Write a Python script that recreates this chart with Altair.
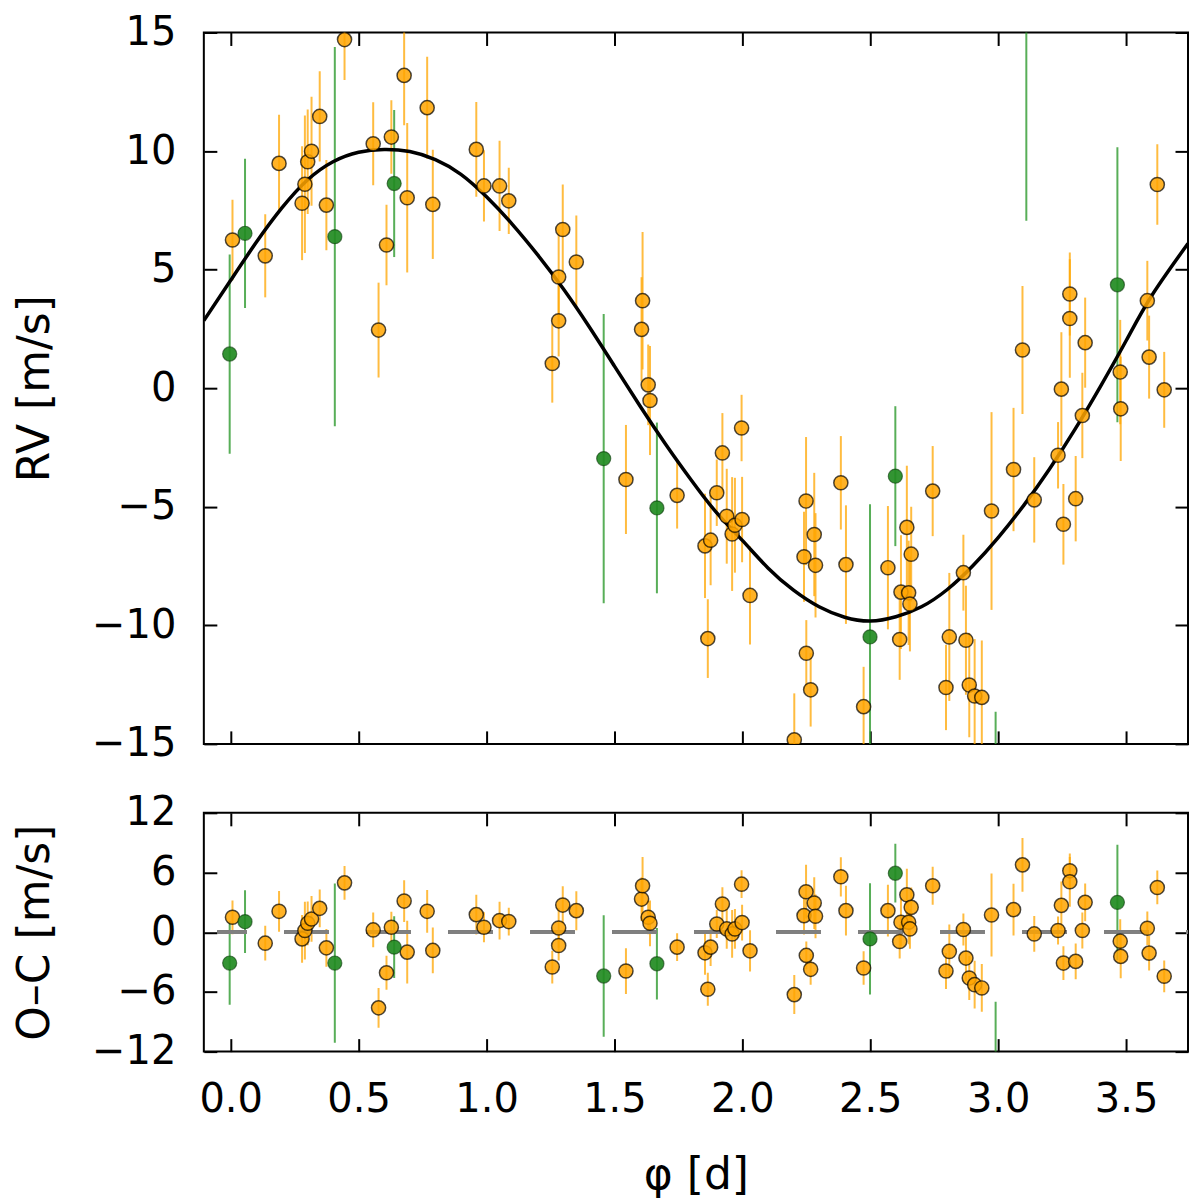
import altair as alt
import pandas as pd

# ---- data ---------------------------------------------------------------
# instrument 1 (orange): phase [d], RV [m/s], sigma [m/s], O-C [m/s]
orange_phase = [
    0.007, 0.135, 0.189, 0.279, 0.290, 0.301, 0.316, 0.348, 0.374, 0.445,
    0.557, 0.578, 0.609, 0.628, 0.678, 0.690, 0.768, 0.790, 0.960, 0.990,
    1.051, 1.087, 1.257, 1.282, 1.282, 1.298, 1.351, 1.545, 1.606, 1.610,
    1.632, 1.639, 1.745, 1.854, 1.865, 1.876, 1.900, 1.922, 1.939, 1.960,
    1.971, 1.999, 1.997, 2.030, 2.203, 2.241, 2.249, 2.250, 2.267, 2.281,
    2.286, 2.385, 2.405, 2.474, 2.569, 2.615, 2.620, 2.643, 2.650, 2.655,
    2.660, 2.744, 2.796, 2.809, 2.864, 2.874, 2.887, 2.908, 2.936, 2.974,
    3.060, 3.095, 3.141, 3.234, 3.247, 3.255, 3.280, 3.280, 3.303, 3.329,
    3.340, 3.477, 3.479, 3.583, 3.590, 3.622, 3.649,
]
orange_rv = [
    6.25, 5.58, 9.48, 7.80, 8.60, 9.55, 9.99, 11.46, 7.72, 14.70,
    10.31, 2.45, 6.04, 10.59, 13.19, 8.03, 11.83, 7.75, 10.07, 8.53,
    8.53, 7.90, 1.04, 2.84, 4.69, 6.69, 5.32, -3.85, 2.48, 3.69,
    0.14, -0.52, -4.52, -6.65, -10.56, -6.41, -4.41, -2.73, -5.40, -6.15,
    -5.78, -5.54, -1.68, -8.74, -14.83, -7.11, -4.76, -11.18, -12.72, -6.17,
    -7.47, -3.99, -7.44, -13.43, -7.57, -10.60, -8.60, -5.87, -8.63, -9.10,
    -7.00, -4.34, -12.62, -10.49, -7.78, -10.63, -12.52, -12.98, -13.04, -5.18,
    -3.43, 1.61, -4.71, -2.83, -0.04, -5.74, 3.97, 2.94, -4.66, -1.15,
    1.92, 0.68, -0.87, 3.69, 1.31, 8.59, -0.07,
]
orange_err = [
    1.70, 1.75, 2.05, 2.40, 2.90, 2.20, 2.30, 1.90, 1.90, 1.70,
    1.75, 2.00, 1.70, 1.55, 2.10, 3.15, 2.15, 2.30, 2.00, 1.50,
    1.90, 1.40, 1.65, 1.50, 2.00, 1.90, 1.96, 2.30, 2.20, 2.90,
    1.70, 2.30, 1.40, 2.20, 1.66, 1.90, 1.40, 1.68, 2.00, 2.40,
    2.00, 1.80, 1.40, 2.07, 1.96, 1.90, 2.70, 1.40, 1.55, 2.60,
    2.20, 1.97, 2.50, 1.68, 2.60, 1.70, 2.40, 2.60, 2.20, 2.00,
    2.00, 1.90, 1.80, 2.70, 1.60, 2.30, 2.20, 2.40, 2.40, 4.17,
    2.60, 2.70, 1.80, 1.40, 2.40, 1.70, 1.75, 2.50, 1.80, 1.80,
    1.90, 2.20, 2.20, 1.68, 1.75, 1.70, 1.60,
]
orange_oc = [
    1.50, -1.10, 2.10, -0.67, 0.17, 0.90, 1.33, 2.40, -1.57, 4.96,
    0.23, -7.60, -4.07, 0.50, 3.13, -2.00, 2.10, -1.83, 1.77, 0.50,
    1.17, 1.07, -3.50, -1.33, 0.43, 2.73, 2.17, -3.90, 3.33, 4.67,
    1.50, 0.90, -1.50, -2.07, -5.73, -1.50, 0.83, 2.83, 0.33, -0.17,
    0.33, 0.97, 4.83, -1.87, -6.27, 1.67, 4.07, -2.33, -3.73, 2.93,
    1.60, 5.57, 2.17, -3.60, 2.17, -0.93, 1.00, 3.77, 1.00, 0.33,
    2.50, 4.67, -3.90, -1.93, 0.27, -2.60, -4.60, -5.27, -5.60, 1.73,
    2.27, 6.77, -0.17, 0.17, 2.70, -3.10, 6.17, 5.07, -2.93, 0.17,
    3.00, -0.90, -2.43, 0.40, -2.10, 4.50, -4.43,
]

# instrument 2 (green)
green_phase = [-0.004, 0.056, 0.407, 0.639, 1.458, 1.666, 2.499, 2.598, 2.990, 3.110, 3.466]
green_rv = [1.44, 6.53, 6.39, 8.63, -2.97, -5.05, -10.49, -3.71, -20.50, 16.50, 4.36]
green_err = [4.20, 3.15, 8.00, 3.10, 6.10, 3.60, 5.60, 2.95, 6.86, 9.44, 5.80]
green_oc = [-3.10, 1.06, -3.10, -1.50, -4.40, -3.17, -0.67, 5.93, -13.86, 21.50, 3.00]

# best-fit orbit
curve_phase = [
    -0.105, 0.0, 0.1, 0.2, 0.3, 0.4, 0.5, 0.6, 0.7, 0.8, 0.9, 1.0, 1.1,
    1.2, 1.3, 1.4, 1.5, 1.6, 1.7, 1.8, 1.9, 2.0, 2.1, 2.2, 2.3, 2.4, 2.5,
    2.6, 2.7, 2.8, 2.9, 3.0, 3.1, 3.2, 3.3, 3.4, 3.5, 3.6, 3.742,
]
curve_rv = [
    2.85, 4.55, 6.15, 7.60, 8.78, 9.55, 9.95, 10.07, 9.98, 9.64, 9.02, 8.07, 6.92,
    5.62, 4.19, 2.61, 0.93, -0.75, -2.36, -3.87, -5.26, -6.42, -7.58, -8.52, -9.22,
    -9.66, -9.82, -9.64, -9.22, -8.50, -7.50, -6.30, -4.94, -3.42, -1.74, 0.08,
    2.00, 3.90, 6.10,
]


def frame(phase, rv, err, oc):
    d = pd.DataFrame({"phase": phase, "rv": rv, "err": err, "oc": oc})
    d["rv_lo"] = d.rv - d.err
    d["rv_hi"] = d.rv + d.err
    d["oc_lo"] = d.oc - d.err
    d["oc_hi"] = d.oc + d.err
    return d


orange = frame(orange_phase, orange_rv, orange_err, orange_oc)
green = frame(green_phase, green_rv, green_err, green_oc)
curve = pd.DataFrame({"phase": curve_phase, "rv": curve_rv})

# ---- layout / style -------------------------------------------------------
W, H_TOP, H_BOT = 985, 712, 239
FONT = "DejaVu Sans"
ORANGE, GREEN = "#FFA500", "#228B22"
x_scale = alt.Scale(domain=[-0.105, 3.742], nice=False, zero=False)
y_scale_top = alt.Scale(domain=[-15, 15], nice=False, zero=False)
y_scale_bot = alt.Scale(domain=[-12, 12], nice=False, zero=False)
X_TICKS = [0.0, 0.5, 1.0, 1.5, 2.0, 2.5, 3.0, 3.5]
Y_TICKS_TOP = [-15, -10, -5, 0, 5, 10, 15]
Y_TICKS_BOT = [-12, -6, 0, 6, 12]


def tick_axis(orient, offset, values):
    # ticks only, pushed onto the opposite edge so they point inward
    return alt.Axis(
        orient=orient, offset=offset, values=values, labels=False,
        domain=False, grid=False, ticks=True, tickSize=13, tickWidth=2,
        tickColor="black", title=None,
    )


def label_axis(orient, values, fmt, title, title_pad):
    return alt.Axis(
        orient=orient, values=values, format=fmt, ticks=False, tickSize=0,
        domain=False, grid=False, labelPadding=28, labelFontSize=40,
        labelFlush=False, labelOverlap=False, labelColor="black",
        title=title, titleFontSize=44, titleFontWeight="normal",
        titlePadding=title_pad, titleColor="black",
    )


def panel(y_field, y_scale, y_ticks, y_title, height, x_labels):
    lo, hi = f"{y_field}_lo", f"{y_field}_hi"
    if x_labels:
        x_first = label_axis("bottom", X_TICKS, ".1f", "φ [d]", 34)
    else:
        x_first = tick_axis("bottom", -height, X_TICKS)
    y_first = label_axis("left", y_ticks, "d", y_title, 34)

    err_orange = alt.Chart(orange).mark_rule(
        color=ORANGE, strokeWidth=2, opacity=0.75, clip=True
    ).encode(
        x=alt.X("phase:Q", scale=x_scale, axis=x_first),
        y=alt.Y(f"{lo}:Q", scale=y_scale, axis=y_first),
        y2=f"{hi}:Q",
    )
    err_green = alt.Chart(green).mark_rule(
        color="#2E9A2E", strokeWidth=2, opacity=0.8, clip=True
    ).encode(
        x=alt.X("phase:Q", scale=x_scale, axis=tick_axis("top", -height, X_TICKS)),
        y=alt.Y(f"{lo}:Q", scale=y_scale, axis=tick_axis("right", -W, y_ticks)),
        y2=f"{hi}:Q",
    )
    if x_labels:
        # dashed zero line of the residual panel
        guide = alt.Chart(curve).mark_rule(
            color="#808080", strokeWidth=3.5, opacity=0.85,
            strokeDash=[44, 38], strokeDashOffset=15, clip=True,
        ).encode(
            x=alt.X(datum=-0.05, scale=x_scale,
                    axis=tick_axis("bottom", -height, X_TICKS)),
            x2=alt.datum(3.742),
            y=alt.Y(datum=0, scale=y_scale, axis=tick_axis("left", -W, y_ticks)),
        )
    else:
        guide = alt.Chart(curve).mark_line(
            color="black", strokeWidth=3.5, interpolate="natural", clip=True
        ).encode(
            x=alt.X("phase:Q", scale=x_scale, axis=None),
            y=alt.Y("rv:Q", scale=y_scale, axis=tick_axis("left", -W, y_ticks)),
        )
    pts_orange = alt.Chart(orange).mark_circle(
        size=200, fill=ORANGE, fillOpacity=0.85, stroke="black",
        strokeOpacity=0.7, strokeWidth=1.5, clip=True,
    ).encode(
        x=alt.X("phase:Q", scale=x_scale, axis=None),
        y=alt.Y(f"{y_field}:Q", scale=y_scale, axis=None),
    )
    pts_green = alt.Chart(green).mark_circle(
        size=200, fill=GREEN, fillOpacity=0.92, stroke="#0b3b0b",
        strokeOpacity=0.6, strokeWidth=1.2, clip=True,
    ).encode(
        x=alt.X("phase:Q", scale=x_scale, axis=None),
        y=alt.Y(f"{y_field}:Q", scale=y_scale, axis=None),
    )
    return (
        alt.layer(err_orange, err_green, guide, pts_orange, pts_green)
        .resolve_axis(x="independent", y="independent")
        .properties(width=W, height=height)
    )


top = panel("rv", y_scale_top, Y_TICKS_TOP, "RV [m/s]", H_TOP, False)
bottom = panel("oc", y_scale_bot, Y_TICKS_BOT, "O–C [m/s]", H_BOT, True)

chart = (
    alt.vconcat(top, bottom, spacing=27)
    .properties(padding={"left": 4, "top": 3, "right": 2, "bottom": 2})
    .configure_view(stroke="black", strokeWidth=2)
    .configure_axis(labelFont=FONT, titleFont=FONT)
)

chart.save("out.html", embed_options={"renderer": "svg", "actions": False})
